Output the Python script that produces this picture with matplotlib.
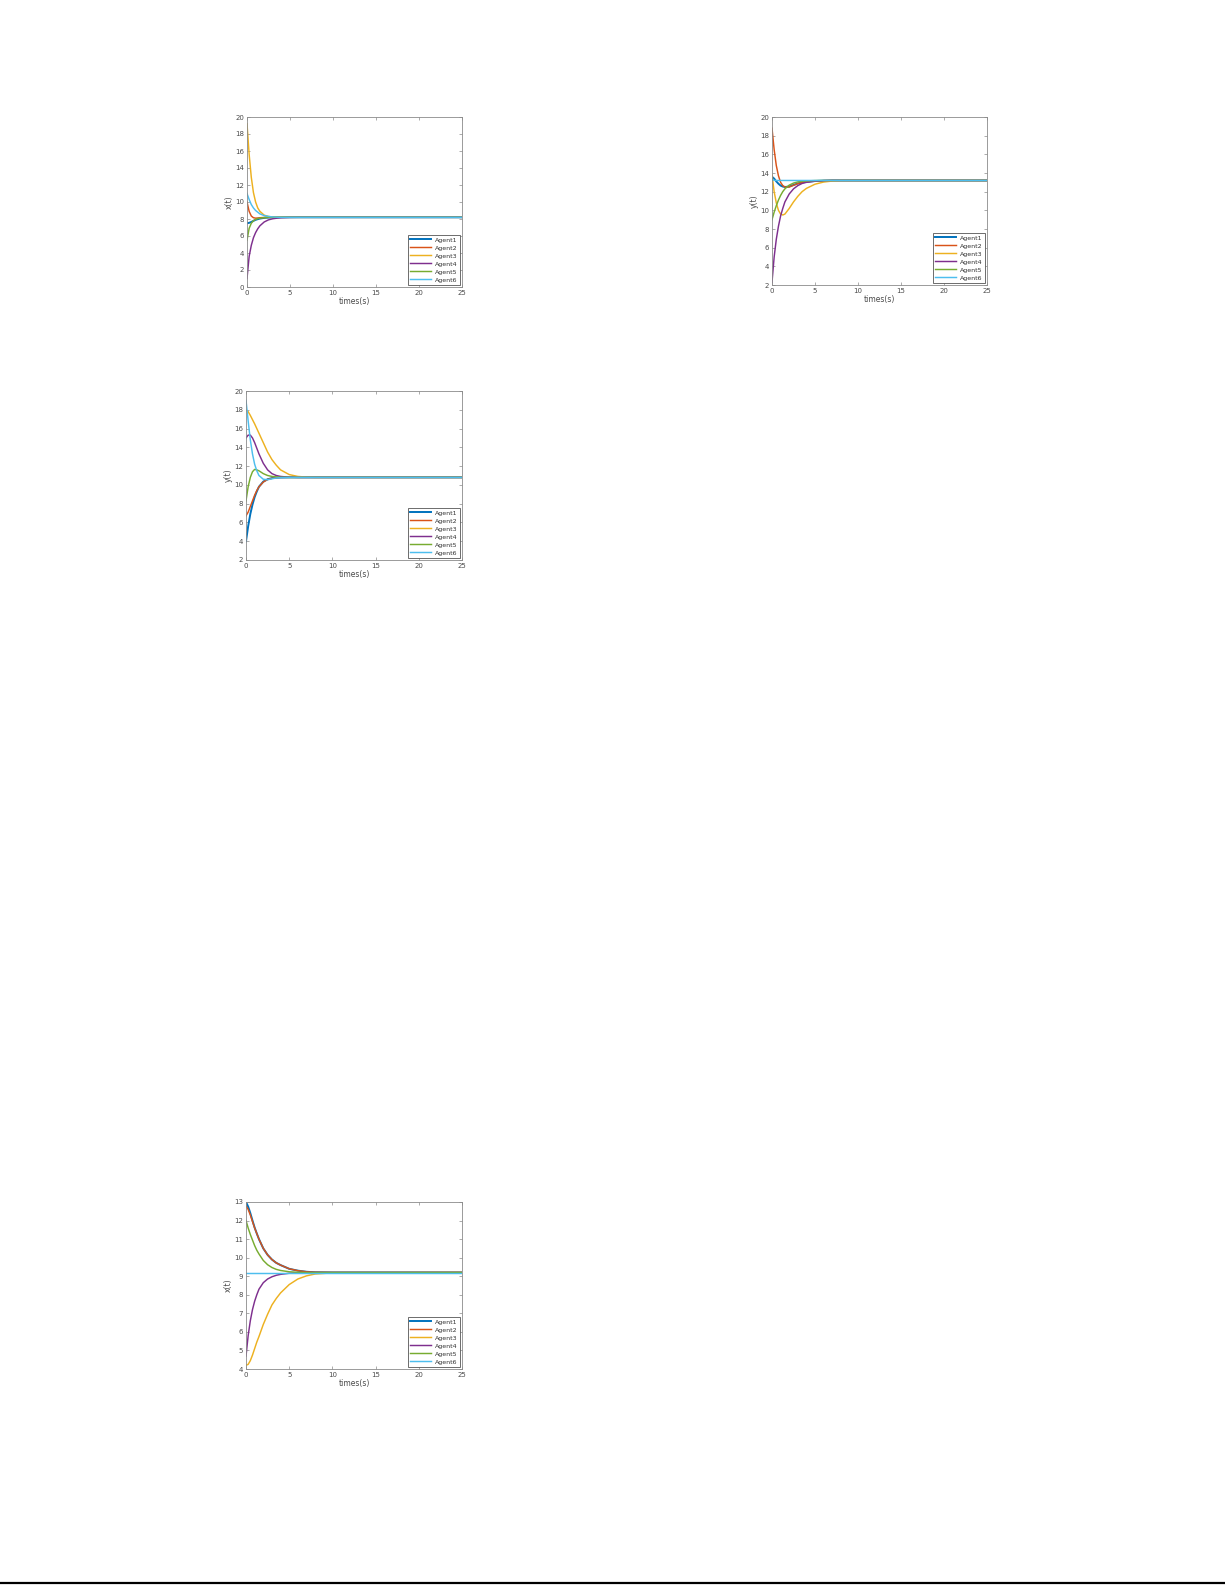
import matplotlib
matplotlib.use("Agg")
import matplotlib.pyplot as plt
from matplotlib.lines import Line2D

# ---------------- data ----------------
agents = ["Agent1", "Agent2", "Agent3", "Agent4", "Agent5", "Agent6"]
colors = ["#0072BD", "#D95319", "#EDB120", "#7E2F8E", "#77AC30", "#4DBEEE"]

t = [0, 0.25, 0.5, 0.75, 1, 1.25, 1.5, 2, 2.5, 3, 3.5, 4, 5, 6, 7, 8, 10, 25]

# Panel 1: x(t), top-left
p1_a1 = [7.5, 7.55, 7.65, 7.78, 7.9, 7.98, 8.05, 8.13, 8.17, 8.19, 8.2, 8.2, 8.2, 8.2, 8.2, 8.2, 8.2, 8.2]
p1_a2 = [10.0, 8.9, 8.35, 8.15, 8.1, 8.12, 8.15, 8.18, 8.2, 8.2, 8.2, 8.2, 8.2, 8.2, 8.2, 8.2, 8.2, 8.2]
p1_a3 = [19.2, 15.6, 12.9, 11.1, 10.0, 9.3, 8.9, 8.45, 8.3, 8.23, 8.21, 8.2, 8.2, 8.2, 8.2, 8.2, 8.2, 8.2]
p1_a4 = [1.0, 3.6, 4.9, 5.8, 6.4, 6.85, 7.2, 7.65, 7.9, 8.03, 8.1, 8.15, 8.19, 8.2, 8.2, 8.2, 8.2, 8.2]
p1_a5 = [5.5, 6.9, 7.5, 7.8, 7.95, 8.05, 8.1, 8.16, 8.19, 8.2, 8.2, 8.2, 8.2, 8.2, 8.2, 8.2, 8.2, 8.2]
p1_a6 = [11.0, 10.3, 9.7, 9.3, 9.0, 8.8, 8.6, 8.4, 8.3, 8.24, 8.21, 8.2, 8.2, 8.2, 8.2, 8.2, 8.2, 8.2]

# Panel 2: y(t), top-right
p2_a1 = [13.6, 13.4, 13.1, 12.85, 12.65, 12.55, 12.5, 12.55, 12.72, 12.88, 12.98, 13.06, 13.14, 13.18, 13.2, 13.2, 13.2, 13.2]
p2_a2 = [18.8, 16.5, 14.8, 13.7, 13.0, 12.65, 12.5, 12.5, 12.68, 12.86, 12.98, 13.06, 13.14, 13.18, 13.2, 13.2, 13.2, 13.2]
p2_a3 = [13.8, 12.0, 10.8, 10.0, 9.6, 9.5, 9.6, 10.2, 10.9, 11.5, 12.0, 12.35, 12.8, 13.03, 13.14, 13.19, 13.2, 13.2]
p2_a4 = [2.3, 5.0, 6.9, 8.3, 9.4, 10.2, 10.9, 11.75, 12.3, 12.65, 12.88, 13.0, 13.12, 13.18, 13.2, 13.2, 13.2, 13.2]
p2_a5 = [9.0, 9.8, 10.5, 11.1, 11.6, 12.0, 12.3, 12.7, 12.92, 13.05, 13.11, 13.15, 13.19, 13.2, 13.2, 13.2, 13.2, 13.2]
p2_a6 = [13.3, 13.22, 13.2, 13.2, 13.2, 13.2, 13.2, 13.2, 13.2, 13.2, 13.2, 13.2, 13.2, 13.2, 13.2, 13.2, 13.2, 13.2]

# Panel 3: y(t), middle-left
p3_a1 = [4.0, 5.6, 6.9, 7.9, 8.7, 9.3, 9.8, 10.35, 10.6, 10.72, 10.77, 10.79, 10.8, 10.8, 10.8, 10.8, 10.8, 10.8]
p3_a2 = [6.7, 7.1, 7.7, 8.3, 8.9, 9.4, 9.8, 10.3, 10.58, 10.7, 10.76, 10.79, 10.8, 10.8, 10.8, 10.8, 10.8, 10.8]
p3_a3 = [18.0, 17.8, 17.4, 16.95, 16.5, 16.0, 15.5, 14.5, 13.5, 12.7, 12.1, 11.6, 11.1, 10.9, 10.83, 10.8, 10.8, 10.8]
p3_a4 = [15.0, 15.3, 15.3, 15.0, 14.5, 13.9, 13.3, 12.3, 11.6, 11.2, 11.0, 10.9, 10.82, 10.8, 10.8, 10.8, 10.8, 10.8]
p3_a5 = [8.3, 9.8, 10.8, 11.4, 11.65, 11.6, 11.5, 11.2, 11.0, 10.9, 10.85, 10.82, 10.8, 10.8, 10.8, 10.8, 10.8, 10.8]
p3_a6 = [19.0, 16.8, 14.8, 13.3, 12.2, 11.5, 11.0, 10.6, 10.55, 10.65, 10.73, 10.77, 10.8, 10.8, 10.8, 10.8, 10.8, 10.8]

# Panel 4: x(t), bottom-left
p4_a1 = [13.0, 12.75, 12.4, 12.0, 11.62, 11.3, 11.0, 10.5, 10.15, 9.9, 9.72, 9.6, 9.4, 9.3, 9.24, 9.21, 9.2, 9.2]
p4_a2 = [12.8, 12.6, 12.3, 11.95, 11.6, 11.3, 11.0, 10.5, 10.15, 9.9, 9.72, 9.6, 9.4, 9.3, 9.24, 9.21, 9.2, 9.2]
p4_a3 = [4.2, 4.25, 4.45, 4.75, 5.1, 5.45, 5.75, 6.4, 6.95, 7.45, 7.8, 8.1, 8.55, 8.85, 9.02, 9.12, 9.18, 9.2]
p4_a4 = [4.7, 5.8, 6.6, 7.2, 7.65, 8.0, 8.3, 8.65, 8.85, 8.97, 9.05, 9.1, 9.16, 9.19, 9.2, 9.2, 9.2, 9.2]
p4_a5 = [12.0, 11.6, 11.25, 10.95, 10.65, 10.4, 10.2, 9.85, 9.62, 9.47, 9.37, 9.31, 9.24, 9.21, 9.2, 9.2, 9.2, 9.2]
p4_a6 = [9.2, 9.2, 9.2, 9.2, 9.2, 9.2, 9.2, 9.2, 9.2, 9.2, 9.2, 9.2, 9.2, 9.2, 9.2, 9.2, 9.2, 9.2]

xticks = [0, 5, 10, 15, 20, 25]
p1_yticks = [0, 2, 4, 6, 8, 10, 12, 14, 16, 18, 20]
p2_yticks = [2, 4, 6, 8, 10, 12, 14, 16, 18, 20]
p3_yticks = [2, 4, 6, 8, 10, 12, 14, 16, 18, 20]
p4_yticks = [4, 5, 6, 7, 8, 9, 10, 11, 12, 13]

panels = [
    dict(series=[p1_a1, p1_a2, p1_a3, p1_a4, p1_a5, p1_a6], yticks=p1_yticks, ylim=(0, 20), ylabel="x(t)",
         box=(247, 117, 462, 287)),
    dict(series=[p2_a1, p2_a2, p2_a3, p2_a4, p2_a5, p2_a6], yticks=p2_yticks, ylim=(2, 20), ylabel="y(t)",
         box=(772, 117, 987, 285)),
    dict(series=[p3_a1, p3_a2, p3_a3, p3_a4, p3_a5, p3_a6], yticks=p3_yticks, ylim=(2, 20), ylabel="y(t)",
         box=(246, 391, 462, 560)),
    dict(series=[p4_a1, p4_a2, p4_a3, p4_a4, p4_a5, p4_a6], yticks=p4_yticks, ylim=(4, 13), ylabel="x(t)",
         box=(246, 1202, 462, 1369)),
]

W, H = 1225, 1585
fig = plt.figure(figsize=(W / 100, H / 100), dpi=100)
fig.patch.set_facecolor("white")

spine_col = "#8a8a8a"
text_col = "#4a4a4a"

for p in panels:
    x0, y0, x1, y1 = p["box"]
    ax = fig.add_axes([x0 / W, 1 - y1 / H, (x1 - x0) / W, (y1 - y0) / H])
    for s, c, name in zip(p["series"], colors, agents):
        lw = 1.4 if name == "Agent1" else 1.05
        ax.plot(t, s, color=c, lw=lw, label=name)
    ax.set_xlim(0, 25)
    ax.set_ylim(*p["ylim"])
    ax.set_xticks(xticks)
    ax.set_yticks(p["yticks"])
    ax.tick_params(direction="in", top=True, right=True, length=2, width=0.5,
                   labelsize=5, colors=spine_col, labelcolor=text_col, pad=2)
    for sp in ax.spines.values():
        sp.set_color(spine_col)
        sp.set_linewidth(0.6)
    ax.set_xlabel("times(s)", fontsize=5.5, color=text_col, labelpad=1)
    ax.set_ylabel(p["ylabel"], fontsize=5.5, color=text_col, labelpad=1)
    leg = ax.legend(loc="lower right", fontsize=4.5, frameon=True, fancybox=False,
                    framealpha=1, edgecolor="#555555", handlelength=3.4, handletextpad=0.6,
                    borderpad=0.35, labelspacing=0.42, borderaxespad=0.35)
    leg.get_frame().set_linewidth(0.6)
    for txt in leg.get_texts():
        txt.set_color("#333333")

# bottom rule line
fig.add_artist(Line2D([0, 1224 / W], [1 - 1583 / H, 1 - 1583 / H], color="black", lw=1.6))

fig.savefig("out.png", dpi=100, facecolor="white")
